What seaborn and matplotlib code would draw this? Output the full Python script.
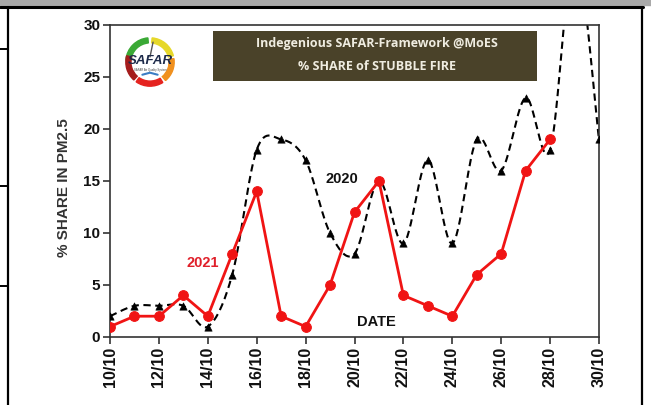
import numpy as np
import pandas as pd
import matplotlib.pyplot as plt
import seaborn as sns
from matplotlib.patches import Rectangle, Wedge

# data (day of October)
days = [10, 11, 12, 13, 14, 15, 16, 17, 18, 19, 20, 21, 22, 23, 24, 25, 26, 27, 28, 29, 30]
share_2020 = [2, 3, 3, 3, 1, 6, 18, 19, 17, 10, 8, 15, 9, 17, 9, 19, 16, 23, 18, 37, 19]
days_2021 = [10, 11, 12, 13, 14, 15, 16, 17, 18, 19, 20, 21, 22, 23, 24, 25, 26, 27, 28]
share_2021 = [1, 2, 2, 4, 2, 8, 14, 2, 1, 5, 12, 15, 4, 3, 2, 6, 8, 16, 19]
tick_days = list(range(10, 31, 2))
tick_labels = [f"{d}/10" for d in tick_days]


def smooth_line(x, y, n=30):
    # Excel-like smoothed line (Catmull-Rom bezier through the points)
    x = np.asarray(x, float)
    y = np.asarray(y, float)
    px = np.concatenate([[x[0]], x, [x[-1]]])
    py = np.concatenate([[y[0]], y, [y[-1]]])
    xs, ys = [], []
    t = np.linspace(0, 1, n)
    for i in range(1, len(px) - 2):
        b0 = np.array([px[i], py[i]])
        b3 = np.array([px[i + 1], py[i + 1]])
        b1 = b0 + (np.array([px[i + 1], py[i + 1]]) - np.array([px[i - 1], py[i - 1]])) / 6
        b2 = b3 - (np.array([px[i + 2], py[i + 2]]) - b0) / 6
        pts = ((1 - t) ** 3)[:, None] * b0 + (3 * (1 - t) ** 2 * t)[:, None] * b1 \
            + (3 * (1 - t) * t ** 2)[:, None] * b2 + (t ** 3)[:, None] * b3
        xs.extend(pts[:, 0])
        ys.extend(pts[:, 1])
    return pd.DataFrame({'x': xs, 'y': ys})


sns.set_theme(style="white")
plt.rcParams['font.family'] = ['Liberation Sans', 'DejaVu Sans']

fig = plt.figure(figsize=(6.51, 4.05), dpi=100)

# screenshot frame (table cell borders)
fig.patches.append(Rectangle((0, 1 - 5 / 405), 1, 5 / 405, transform=fig.transFigure,
                             color='#a9a9a9', zorder=0))
fig.add_artist(plt.Line2D([0, 643 / 651], [1 - 7 / 405] * 2, transform=fig.transFigure, color='black', lw=2.2))
fig.add_artist(plt.Line2D([8 / 651] * 2, [0, 1 - 7 / 405], transform=fig.transFigure, color='black', lw=1.6))
fig.add_artist(plt.Line2D([642 / 651] * 2, [0, 1 - 7 / 405], transform=fig.transFigure, color='black', lw=1.6))
for yy in [49, 186, 286]:
    fig.add_artist(plt.Line2D([0, 8 / 651], [1 - yy / 405] * 2, transform=fig.transFigure, color='black', lw=1.4))

ax = fig.add_axes([110 / 651, 68 / 405, 489 / 651, 312 / 405])

curve = smooth_line(days, share_2020)
sns.lineplot(data=curve, x='x', y='y', ax=ax, sort=False, color='black', lw=1.5,
             linestyle=(0, (3.5, 2.2)), estimator=None, zorder=2)
sns.scatterplot(x=days, y=share_2020, ax=ax, marker='^', color='black', s=28,
                edgecolor='black', zorder=3, clip_on=True)
sns.lineplot(x=days_2021, y=share_2021, ax=ax, color='#f01414', lw=2, marker='o',
             markersize=7, markeredgecolor='#f01414', zorder=4, estimator=None)

ax.set_xlim(10, 30)
ax.set_ylim(0, 30)
ax.set_xticks(tick_days)
ax.set_xticklabels(tick_labels, rotation=90, fontweight='bold', fontsize=11.5, color='#111111')
ax.set_yticks(range(0, 31, 5))
ax.set_yticklabels(range(0, 31, 5), fontweight='bold', fontsize=11, color='#111111')
ax.tick_params(axis='both', direction='out', length=5, width=1.2, color='#333333', pad=2, bottom=True, left=True)
for sp in ax.spines.values():
    sp.set_color('#333333')
    sp.set_linewidth(1.2)
ax.set_xlabel('')
ax.set_ylabel('% SHARE IN PM2.5', fontweight='bold', fontsize=11, color='#333333')
ax.yaxis.set_label_coords(-0.08, 0.48)

ax.text(19.5, 15.2, '2020', fontweight='bold', fontsize=10.5, color='#111111', ha='center', va='center')
ax.text(13.8, 7.1, '2021', fontweight='bold', fontsize=10.5, color='#e0202a', ha='center', va='center')
ax.text(20.9, 1.4, 'DATE', fontweight='bold', fontsize=10.5, color='#111111', ha='center', va='center')

# title box
box = Rectangle((213 / 651, 1 - 81 / 405), 324 / 651, 50 / 405, transform=fig.transFigure,
                facecolor='#4a4229', edgecolor='none', zorder=5)
fig.patches.append(box)
fig.text(377 / 651, 1 - 44 / 405, 'Indegenious SAFAR-Framework @MoES', ha='center', va='center',
         fontsize=9, fontweight='bold', color='#efece0', family=['Open Sans', 'DejaVu Sans'], zorder=6)
fig.text(377 / 651, 1 - 66 / 405, '% SHARE of STUBBLE FIRE', ha='center', va='center',
         fontsize=9, fontweight='bold', color='#efece0', family=['Open Sans', 'DejaVu Sans'], zorder=6)

# SAFAR logo
lax = fig.add_axes([122 / 651, 1 - 90 / 405, 56 / 651, 56 / 405])
lax.set_xlim(-1.1, 1.1)
lax.set_ylim(-1.1, 1.1)
lax.set_aspect('equal')
lax.axis('off')
arcs = [(95, 175, '#3aa935'), (15, 85, '#e6d82a'), (-50, 8, '#f0901e'),
        (-125, -58, '#e5231f'), (-195, -132, '#a51c1c')]
for a0, a1, c in arcs:
    lax.add_patch(Wedge((0, 0), 0.95, a0, a1, width=0.2, color=c))
lax.plot([0.0, 0.12], [0.2, 0.78], color='#555555', lw=1)
lax.text(0, 0.02, 'SAFAR', ha='center', va='center', fontsize=9.5, fontweight='bold',
         style='italic', color='#1d2a4a')
lax.text(0, -0.3, 'SAFAR Air Quality System', ha='center', va='center', fontsize=2, color='#444444')
lax.plot([-0.3, 0.0, 0.3], [-0.5, -0.42, -0.5], color='#3b7dc4', lw=1.5)

fig.savefig('out.png', dpi=100)
